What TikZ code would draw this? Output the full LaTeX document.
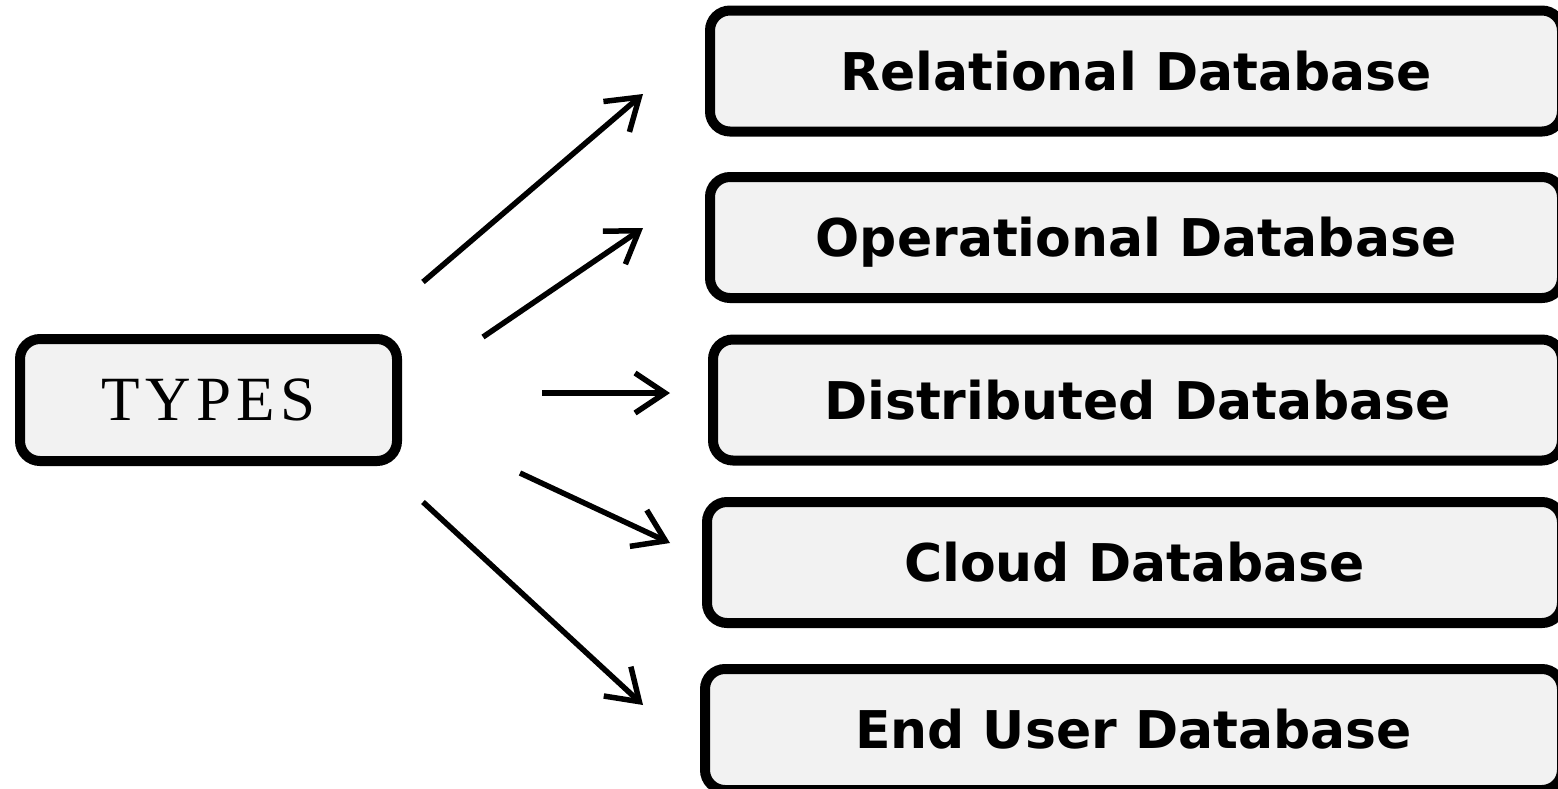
\documentclass[tikz,border=0pt]{standalone}
\usepackage{fontspec}
\usetikzlibrary{arrows.meta}
\newfontfamily\labelfont{DejaVu Sans}
\newfontfamily\typesfont{Liberation Serif}
\definecolor{boxgray}{HTML}{F2F2F2}
\tikzset{
  framebox/.style={draw, line width=10pt, rounded corners=20pt, fill=boxgray,
    inner sep=0pt, text depth=0pt},
  dbbox/.style={framebox, minimum height=121pt, text height=38pt,
    font=\labelfont\bfseries\fontsize{52}{52}\selectfont},
  typesbox/.style={framebox, minimum width=377pt, minimum height=122pt, text height=41pt,
    font=\typesfont\fontsize{63}{63}\selectfont},
  link/.style={line width=5.5pt, -{Straight Barb[length=30pt,width=40pt]}}
}
\begin{document}
\begin{tikzpicture}[x=1pt, y=-1pt]
  \clip (0,0) rectangle (1558,788);

  % source box
  \node[typesbox] (types) at (208.5,400) {T\kern6pt Y\kern5pt P\kern5pt E\kern6pt S};

  % database kinds
  \node[dbbox, minimum width=852pt] (rel)   at (1136,71)     {Relational Database};
  \node[dbbox, minimum width=852pt] (oper)  at (1136,237.5)  {Operational Database};
  \node[dbbox, minimum width=849pt] (dist)  at (1137.5,400)  {Distributed Database};
  \node[dbbox, minimum width=855pt] (cloud) at (1134.5,562.5){Cloud Database};
  \node[dbbox, minimum width=857pt] (enduser) at (1133.5,729.5){End User Database};

  % arrow ends
  \coordinate (a1s) at (423,282);  \coordinate (a1e) at (643,94);
  \coordinate (a2s) at (483,337);  \coordinate (a2e) at (643,228);
  \coordinate (a3s) at (542,393);  \coordinate (a3e) at (670,393);
  \coordinate (a4s) at (520,473);  \coordinate (a4e) at (670,543);
  \coordinate (a5s) at (423,502);  \coordinate (a5e) at (643,705);

  \draw[link] (a1s) -- (a1e);
  \draw[link] (a2s) -- (a2e);
  \draw[link] (a3s) -- (a3e);
  \draw[link] (a4s) -- (a4e);
  \draw[link] (a5s) -- (a5e);
\end{tikzpicture}
\end{document}
